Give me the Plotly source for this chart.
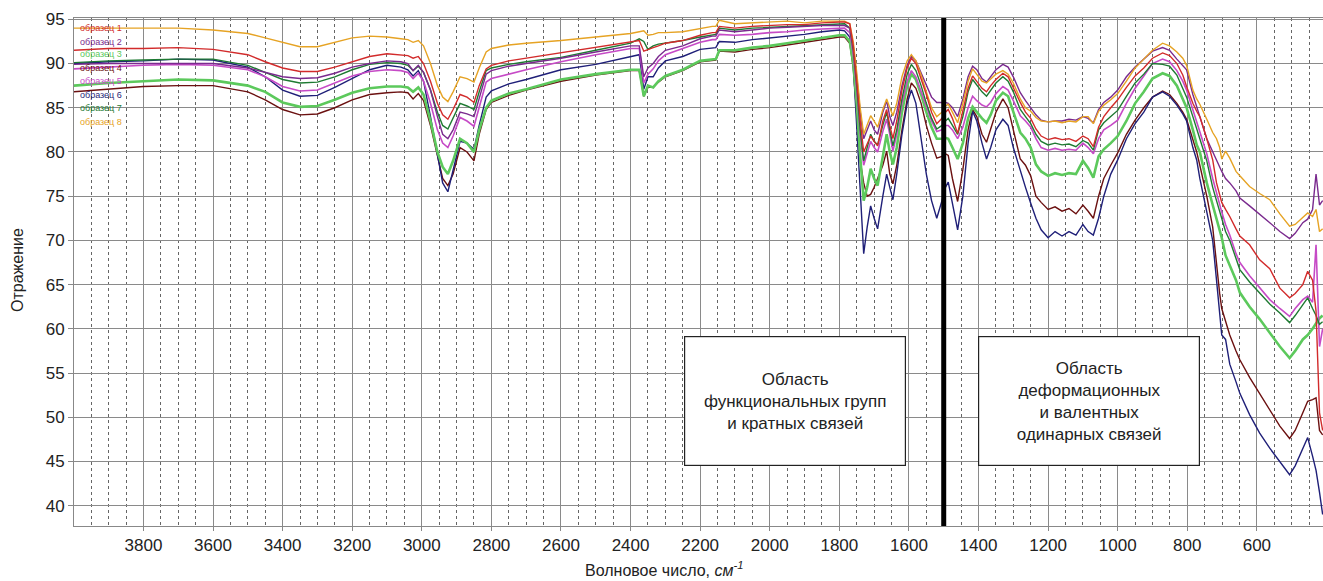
import plotly.graph_objects as go

# ---------------- data ----------------
wavenumber = [
    4000, 3900, 3800, 3700, 3600, 3500, 3450, 3400, 3350, 3300,
    3250, 3200, 3150, 3100, 3060, 3040, 3025, 3010, 2995, 2975,
    2955, 2940, 2925, 2910, 2890, 2870, 2850, 2835, 2815, 2800,
    2750, 2700, 2600, 2500, 2400, 2375, 2362, 2350, 2335, 2320,
    2300, 2250, 2200, 2165, 2155, 2145, 2100, 2050, 2000, 1950,
    1900, 1850, 1800,
    1785, 1770, 1760, 1750, 1740, 1730, 1720, 1710, 1700, 1690,
    1675, 1664, 1655, 1646, 1635, 1620, 1605, 1593, 1580, 1565,
    1550, 1535, 1520, 1505, 1495, 1487, 1475, 1460, 1445, 1430,
    1417, 1405, 1390, 1377, 1365, 1350, 1330, 1315, 1300, 1280,
    1265, 1250, 1235, 1220, 1200, 1180, 1160, 1140, 1120, 1100,
    1085, 1070, 1055, 1040, 1020, 1000, 975, 950, 925, 900,
    871, 851, 830, 813, 802, 784, 773, 764, 744, 727,
    716, 707, 701, 690, 678, 660, 649, 621, 592, 563,
    534, 506, 490, 468, 454, 440, 430, 420, 411,
]

sample_1 = [  # red
    91.5, 91.7, 91.7, 91.8, 91.6, 91.0, 90.2, 89.5, 89.1, 89.1,
    89.6, 90.2, 90.8, 91.1, 91.0, 90.9, 90.6, 90.8, 90.0, 88.0,
    85.5, 84.2, 83.7, 84.8, 86.5, 86.2, 85.6, 87.5, 89.4, 89.8,
    90.3, 90.6, 91.2, 91.8, 92.4, 92.6, 91.4, 91.6, 91.8, 92.0,
    92.3, 92.6, 93.2, 93.5, 93.5, 94.2, 94.0, 94.2, 94.3, 94.4,
    94.4, 94.6, 94.7,
    94.7, 94.5, 92.0, 88.0, 83.5, 80.0, 81.0, 81.8, 81.2, 80.7,
    83.5, 84.8, 83.0, 81.5, 83.5, 87.0, 89.5, 90.6, 90.0, 88.3,
    86.5, 84.5, 83.2, 83.8, 84.5, 84.8, 83.8, 82.1, 84.5, 87.2,
    88.6, 88.0, 87.2, 86.8, 87.5, 88.2, 88.9, 88.5, 87.2, 85.6,
    84.5, 83.8, 82.6, 81.8, 81.4, 81.6, 81.4, 81.5, 81.2, 81.8,
    81.5, 80.6, 82.8, 84.0, 85.0, 85.9, 87.3, 88.6, 89.5, 90.6,
    91.2, 90.9, 90.0, 88.7, 87.4, 85.5, 84.6, 84.0, 81.5, 79.1,
    76.5, 75.0, 74.3, 73.5, 72.7, 71.3, 70.5, 69.5, 67.8, 66.8,
    64.6, 63.5, 64.0, 65.0, 66.5, 65.5, 62.0, 50.5, 48.5,
]

sample_2 = [  # purple
    89.9, 90.0, 90.0, 90.0, 90.0, 89.5, 89.0, 88.5, 88.3, 88.4,
    88.9, 89.6, 90.0, 90.3, 90.2, 90.0, 89.2, 89.8, 89.0, 87.0,
    84.0, 82.0, 81.5, 82.5, 84.5, 84.3, 84.0, 86.0, 88.8, 89.2,
    89.7, 90.0, 90.6, 91.3, 92.0, 92.0, 88.5, 89.5, 90.0, 90.8,
    91.5, 92.0, 92.8, 93.1, 93.1, 93.8, 93.6, 93.8, 94.0, 94.1,
    94.2, 94.3, 94.3,
    94.3, 94.0, 92.0, 88.5, 84.5, 81.5, 82.5, 83.5, 82.5, 82.0,
    84.5, 85.8, 84.0, 83.0, 84.5, 87.5, 89.8, 90.8, 90.3, 89.0,
    87.5, 86.2, 85.6, 85.6, 85.6, 85.5, 85.0, 84.0, 86.0, 88.5,
    89.7, 89.3, 88.3, 87.9, 88.5, 89.3, 89.9, 89.6, 88.5, 86.7,
    85.8, 85.0, 84.2, 83.6, 83.4, 83.5, 83.5, 83.7, 83.6, 84.0,
    83.8, 83.3, 84.8, 85.6, 86.2, 87.0, 88.5, 89.6, 90.5, 91.4,
    91.8, 91.5, 90.5, 89.8, 89.3, 86.5, 85.0, 84.0, 81.5, 80.0,
    79.0, 78.2, 77.8, 77.0, 76.5, 75.6, 74.8, 73.9, 73.0, 72.0,
    71.0, 70.2, 70.8, 72.0, 72.4, 73.5, 77.5, 74.0, 74.5,
]

sample_3 = [  # light green
    87.5, 87.8, 88.0, 88.2, 88.1, 87.5, 86.8, 85.6, 85.1, 85.2,
    85.9, 86.7, 87.2, 87.4, 87.4, 87.3, 86.8, 87.3, 86.5, 83.5,
    80.0, 78.3, 77.5, 79.0, 81.5, 81.0, 80.0, 82.5, 85.0, 85.8,
    86.6, 87.1, 88.2, 88.8, 89.3, 89.3, 86.3, 87.5, 87.3, 88.0,
    88.6, 89.3, 90.3, 90.5, 90.5, 91.5, 91.5, 91.8, 92.0, 92.3,
    92.6, 92.9, 93.2,
    93.2, 92.5, 90.0, 85.5, 79.5, 74.5, 76.0, 78.1, 77.0, 76.2,
    79.5, 82.0, 80.0, 78.6, 80.5, 84.5, 87.5, 88.8, 88.2, 86.5,
    84.5, 82.8, 81.5, 81.5, 81.6, 81.5, 80.5, 79.2, 81.0, 83.8,
    85.1, 84.5, 83.8, 83.3, 84.2, 85.8, 86.7, 86.3, 84.5, 82.2,
    81.5, 80.5, 78.6, 77.8, 77.3, 77.6, 77.4, 77.6, 77.5, 79.0,
    78.2, 77.1, 79.5, 80.3, 81.0, 81.8, 83.5, 85.5, 86.8, 88.3,
    88.9, 88.6, 87.5, 86.0, 85.0, 82.5, 80.8, 80.0, 76.5, 74.0,
    72.5, 71.3, 70.3, 68.3, 67.2, 65.5, 64.1, 62.5, 61.1, 59.5,
    58.0, 56.7, 57.5, 58.8, 59.3, 60.0, 60.6, 61.2, 61.5,
]

sample_4 = [  # maroon
    86.8, 87.1, 87.4, 87.5, 87.5, 86.8, 85.9, 84.8, 84.2, 84.3,
    85.0, 85.9, 86.5, 86.7, 86.8, 86.7, 86.0, 86.6, 85.8, 83.0,
    79.5, 77.0, 76.2, 77.5, 80.5, 80.0, 79.0, 82.0, 84.8, 85.6,
    86.4, 87.0, 88.0, 88.7, 89.2, 89.2, 86.3, 87.3, 87.3, 87.9,
    88.5, 89.2, 90.2, 90.4, 90.4, 91.4, 91.3, 91.6, 91.8, 92.1,
    92.4, 92.7, 93.0,
    93.0, 92.3, 89.5, 84.5, 79.0, 76.5, 75.0, 75.2, 76.0, 77.0,
    78.5, 80.1, 77.5, 76.4, 78.5, 82.5, 86.0, 87.8, 87.2, 85.5,
    83.0, 81.0, 79.3, 79.5, 79.8, 79.6, 77.0, 74.4, 78.0, 82.5,
    84.8, 84.0, 82.0, 81.1, 82.5, 84.5, 86.0, 85.0, 82.5, 79.2,
    78.5, 77.3, 75.0, 74.3, 73.5, 73.8, 73.3, 73.6, 73.0, 74.0,
    73.3, 72.5, 75.0, 77.0, 78.5, 79.9, 82.0, 83.6, 85.0, 86.2,
    86.9, 86.5, 85.5, 84.5, 83.7, 81.5, 80.0, 78.5, 75.0, 71.5,
    67.0, 64.0, 62.3, 60.8, 59.3, 57.5, 56.5, 54.5, 52.7, 50.8,
    49.0, 47.6, 48.5, 50.5, 51.8, 52.0, 52.2, 48.5, 48.0,
]

sample_5 = [  # magenta
    89.4, 89.6, 89.8, 89.9, 89.8, 89.3, 88.5, 87.4, 86.9, 87.0,
    87.8, 88.6, 89.1, 89.3, 89.2, 89.0, 88.3, 88.9, 88.0, 85.5,
    82.5, 81.0, 80.5, 81.8, 83.9, 83.5, 82.9, 85.0, 87.9, 88.3,
    88.8, 89.3, 90.2, 91.0, 91.7, 91.7, 87.8, 88.8, 89.4, 90.3,
    91.0, 91.7, 92.4, 92.7, 92.7, 93.3, 93.2, 93.3, 93.5, 93.6,
    93.8, 93.9, 94.0,
    94.0, 93.5, 91.0, 87.0, 82.0, 78.5, 80.0, 81.2, 80.5, 80.0,
    82.3, 83.7, 82.0, 80.1, 82.0, 85.5, 88.0, 89.2, 88.5, 86.8,
    85.0, 83.5, 82.3, 82.5, 83.0, 83.0, 82.5, 81.5, 82.8, 85.0,
    86.3, 85.8, 85.3, 85.1, 85.6, 86.6, 87.4, 87.0, 85.8, 84.1,
    83.5, 82.8, 81.5, 80.5, 80.2, 80.4, 80.2, 80.3, 80.2, 81.0,
    80.5, 79.8, 81.5, 82.5, 83.0, 83.6, 85.5, 87.2, 88.6, 90.0,
    90.5, 90.2, 89.2, 88.0, 87.0, 84.8, 83.3, 82.3, 79.8, 77.0,
    75.3, 74.0, 73.2, 71.8, 70.6, 68.5, 67.5, 66.0, 64.7, 63.3,
    62.3, 61.4, 62.3, 63.3, 63.7, 63.0, 69.5, 58.0, 60.0,
]

sample_6 = [  # navy
    90.0, 90.2, 90.3, 90.5, 90.4, 89.6, 88.5, 87.0, 86.3, 86.4,
    87.3, 88.3, 89.3, 89.8, 89.6, 89.3, 88.6, 89.2, 88.0, 84.0,
    79.5, 76.5, 75.5, 78.0, 81.2, 81.0, 80.3, 83.0, 86.2, 86.9,
    87.7, 88.2, 89.3, 89.9, 90.8, 91.0, 87.1, 88.5, 88.5, 89.5,
    90.3, 90.8, 91.6, 91.8, 91.8, 92.5, 92.4, 92.7, 92.9, 93.1,
    93.3, 93.6, 93.8,
    93.7, 93.0, 90.0, 83.0, 75.0, 68.5, 71.5, 73.9, 72.5, 71.3,
    75.0, 77.5, 76.0, 74.6, 77.5, 82.0, 85.5, 87.0, 85.5, 81.5,
    77.5, 74.5, 72.5, 74.5, 76.0, 76.6, 74.0, 71.2, 75.0, 81.0,
    84.6, 83.5, 81.0, 79.2, 80.5, 82.5, 83.7, 83.0, 80.5, 77.8,
    76.0, 74.2, 72.5, 71.2, 70.3, 71.0, 70.5, 71.0, 70.6, 71.8,
    71.0, 70.6, 72.5, 75.0, 77.5, 79.1, 81.5, 83.2, 84.5, 86.2,
    86.8, 86.3, 85.3, 84.3, 83.5, 80.5, 79.1, 77.0, 73.4, 70.0,
    65.5, 61.5, 59.3, 58.8, 56.0, 54.0, 52.7, 50.3, 48.2, 46.5,
    45.0, 43.5, 44.5, 46.5, 47.7, 45.6, 44.0, 41.5, 39.0,
]

sample_7 = [  # dark green
    90.1, 90.3, 90.4, 90.5, 90.5, 89.8, 89.0, 88.2, 87.8, 87.9,
    88.5, 89.3, 89.9, 90.1, 90.0, 89.8, 89.2, 89.7, 89.0, 87.0,
    84.5, 83.0, 82.6, 83.8, 85.5, 85.2, 84.8, 86.8, 89.2, 89.5,
    89.9, 90.2, 90.7, 91.5, 92.3, 92.8, 92.5, 91.6, 92.0, 92.2,
    92.3, 92.6, 93.0, 93.3, 93.3, 94.0, 93.8, 94.0, 94.1, 94.2,
    94.3, 94.4, 94.5,
    94.5, 94.0, 91.5, 87.5, 82.5, 79.0, 80.5, 82.0, 81.2, 80.8,
    83.0, 84.5, 82.5, 80.7, 82.5, 86.0, 88.8, 89.9, 89.2, 87.5,
    85.5, 83.8, 82.6, 83.0, 83.5, 83.8, 83.0, 82.0, 84.0, 86.8,
    88.2, 87.6, 86.8, 86.3, 87.0, 87.8, 88.5, 88.0, 86.8, 84.8,
    84.0, 83.2, 82.0, 81.2, 80.8, 81.0, 80.8, 80.9, 80.6, 81.3,
    81.0, 80.2, 82.5, 83.3, 84.0, 84.7, 86.3, 87.8, 88.8, 90.0,
    89.9, 89.7, 88.7, 87.3, 86.2, 84.0, 82.5, 81.5, 79.0, 76.0,
    74.5, 73.3, 72.5, 71.0, 70.0, 68.0, 66.7, 65.3, 64.1, 62.8,
    61.8, 60.7, 61.5, 62.8, 63.5, 62.3, 61.5, 60.5, 60.8,
]

sample_8 = [  # gold
    94.0, 94.0, 94.0, 94.0, 93.8, 93.4, 92.9, 92.4, 91.9, 91.9,
    92.4, 92.9, 93.1, 93.0, 92.8, 92.7, 92.4, 92.6, 92.0, 90.0,
    87.5, 86.2, 85.7, 86.8, 88.5, 88.3, 87.9, 89.5, 91.3, 91.7,
    92.1, 92.3, 92.6, 93.0, 93.4, 93.6, 93.7, 93.2, 93.3, 93.5,
    93.5, 93.6, 94.0, 94.2, 94.2, 94.9, 94.5, 94.6, 94.7, 94.8,
    94.6, 94.8, 94.8,
    94.8, 94.5, 92.5, 89.0, 85.0, 82.0, 83.0, 84.1, 83.5, 82.8,
    84.8, 86.0, 85.0, 84.1, 85.5, 88.5, 90.3, 91.0, 90.3, 88.7,
    86.8, 85.0, 84.0, 84.5, 85.2, 85.4, 84.5, 83.3, 85.5, 88.0,
    89.4, 88.8, 88.0, 87.8, 88.2, 88.8, 89.2, 88.8, 87.8, 86.0,
    85.0, 84.6, 83.9, 83.5, 83.4, 83.5, 83.3, 83.5, 83.4, 84.0,
    84.0, 83.2, 84.6, 85.3, 85.9, 86.6, 88.0, 89.5, 90.5, 91.5,
    92.3, 92.0, 91.3, 90.6, 89.8, 87.0, 86.0, 85.4, 83.7, 82.2,
    81.5, 80.5, 79.2, 80.1, 79.3, 77.8, 77.3, 76.1, 75.3, 74.6,
    73.0, 71.6, 71.8, 72.6, 73.1, 72.7, 73.5, 71.0, 71.3,
]

series_names = ["образец 1", "образец 2", "образец 3", "образец 4",
                "образец 5", "образец 6", "образец 7", "образец 8"]
series_values = [sample_1, sample_2, sample_3, sample_4,
                 sample_5, sample_6, sample_7, sample_8]
series_colors = ["#d22b2b", "#7a2a8e", "#5cc95c", "#6b1010",
                 "#c64ac6", "#1f1f78", "#1e7a32", "#e6a324"]
series_widths = [1.4, 1.4, 2.6, 1.4, 1.6, 1.4, 1.4, 1.4]

region_left = "Область<br>функциональных групп<br>и кратных связей"
region_right = "Область<br>деформационных<br>и валентных<br>одинарных связей"
boundary_wavenumber = 1500

FONT = "Liberation Sans, Arial, Helvetica, sans-serif"

fig = go.Figure()
draw_order = [3, 5, 2, 4, 6, 1, 7, 0]
for i in draw_order:
    fig.add_trace(go.Scatter(
        x=wavenumber, y=series_values[i], mode="lines", name=series_names[i],
        line=dict(color=series_colors[i], width=series_widths[i]),
        showlegend=False,
    ))

# boundary line
fig.add_shape(type="line", xref="x", yref="paper",
              x0=boundary_wavenumber, x1=boundary_wavenumber, y0=0, y1=1,
              line=dict(color="black", width=5), layer="above")

# legend as coloured text
legend_px_y = [28, 41.5, 54.5, 68, 81, 95, 108, 122]
plot_top, plot_bottom = 18, 526
plot_h = plot_bottom - plot_top
for name, col, py in zip(series_names, series_colors, legend_px_y):
    fig.add_annotation(xref="paper", yref="paper", x=0.003,
                       y=(plot_bottom - py) / plot_h,
                       xanchor="left", yanchor="middle", showarrow=False,
                       text=name, font=dict(family=FONT, size=9, color=col))

# region boxes
box_y = (plot_bottom - 401) / plot_h
for cx, txt in [(795, region_left), (1088.5, region_right)]:
    fig.add_annotation(xref="paper", yref="paper", x=(cx - 74) / 1249, y=box_y,
                       xanchor="center", yanchor="middle", showarrow=False,
                       text=txt, align="center", valign="middle",
                       width=220, height=128, borderpad=0,
                       bgcolor="white", bordercolor="#222", borderwidth=1.2,
                       font=dict(family=FONT, size=17, color="#222"))

# axis titles
fig.add_annotation(xref="paper", yref="paper", x=(664 - 74) / 1249,
                   y=(plot_bottom - 569) / plot_h,
                   xanchor="center", yanchor="middle", showarrow=False,
                   text="Волновое число, <i>см<sup>-1</sup></i>",
                   font=dict(family=FONT, size=16, color="#222"))
fig.add_annotation(xref="paper", yref="paper", x=(17 - 74) / 1249,
                   y=(plot_bottom - 270) / plot_h,
                   xanchor="center", yanchor="middle", showarrow=False,
                   textangle=-90, text="Отражение",
                   font=dict(family=FONT, size=16, color="#222"))

fig.update_layout(
    width=1323, height=581,
    margin=dict(l=74, r=0, t=18, b=55),
    paper_bgcolor="white", plot_bgcolor="white",
    font=dict(family=FONT, color="#222"),
    xaxis=dict(
        range=[3999.5, 410], tickmode="linear", tick0=0, dtick=200,
        showgrid=True, gridcolor="#8a8a8a", gridwidth=1,
        minor=dict(tickmode="linear", tick0=0, dtick=50, showgrid=True,
                   gridcolor="#666", griddash="dot", gridwidth=1),
        showline=True, linecolor="#888", linewidth=1, mirror=True,
        ticks="outside", ticklen=4, tickcolor="#888",
        tickfont=dict(family=FONT, size=17, color="#222"),
        zeroline=False,
    ),
    yaxis=dict(
        range=[37.7, 95.15], tickmode="linear", tick0=0, dtick=5,
        showgrid=True, gridcolor="#8a8a8a", gridwidth=1,
        showline=True, linecolor="#888", linewidth=1, mirror=True,
        ticks="outside", ticklen=5, tickcolor="#888",
        tickfont=dict(family=FONT, size=17, color="#222"),
        zeroline=False,
    ),
)

fig.write_html("out.html",
               config={"displayModeBar": False},
               post_script="document.body.style.margin='0';"
                           "document.body.style.padding='0';")
